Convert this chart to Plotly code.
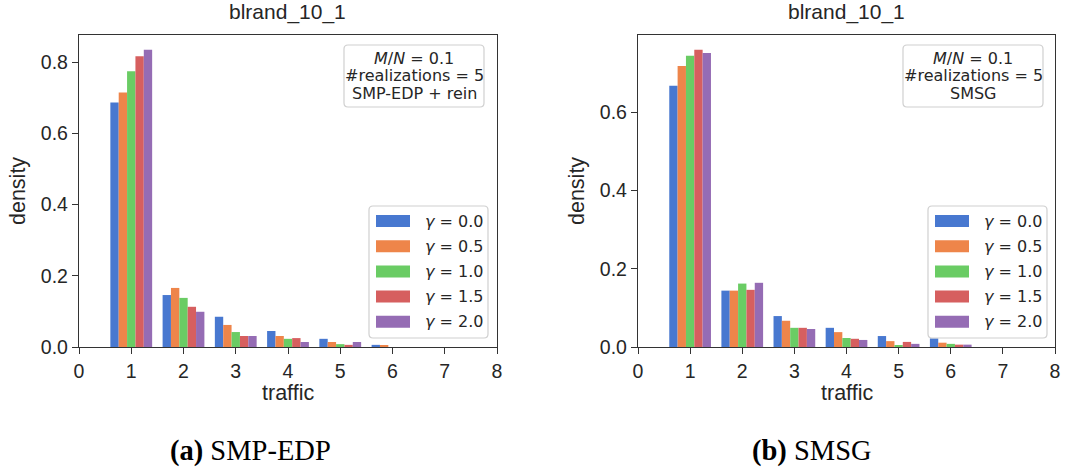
import plotly.graph_objects as go

# ---- data -------------------------------------------------------------
traffic = [1, 2, 3, 4, 5, 6]
gammas = ["0.0", "0.5", "1.0", "1.5", "2.0"]

# SMP-EDP + rein : density of traffic per gamma
smp_g00 = [0.687, 0.146, 0.085, 0.045, 0.023, 0.006]
smp_g05 = [0.715, 0.166, 0.062, 0.031, 0.014, 0.005]
smp_g10 = [0.775, 0.138, 0.042, 0.023, 0.008, 0.000]
smp_g15 = [0.817, 0.113, 0.031, 0.025, 0.006, 0.000]
smp_g20 = [0.835, 0.099, 0.031, 0.014, 0.014, 0.000]

# SMSG : density of traffic per gamma
smsg_g00 = [0.667, 0.144, 0.079, 0.049, 0.028, 0.022]
smsg_g05 = [0.718, 0.144, 0.067, 0.038, 0.015, 0.011]
smsg_g10 = [0.744, 0.162, 0.049, 0.023, 0.005, 0.008]
smsg_g15 = [0.759, 0.146, 0.049, 0.021, 0.013, 0.006]
smsg_g20 = [0.751, 0.164, 0.046, 0.018, 0.008, 0.006]

panel_titles = ["blrand_10_1", "blrand_10_1"]
method_labels = ["SMP-EDP + rein", "SMSG"]
captions = [("(a)", "SMP-EDP"), ("(b)", "SMSG")]
x_ticks = [0, 1, 2, 3, 4, 5, 6, 7, 8]

colors = ["#4878d0", "#ee854a", "#6acc64", "#d65f5f", "#956cb4"]

# ---- geometry (pixels) -----------------------------------------------
W, H = 1065, 469
AX_TOP, AX_BOT = 35, 347
AX_X = [(79, 497), (638, 1055)]
CAP_X = [250, 812]
TXT = "#262626"
SANS = "Liberation Sans, Arial, sans-serif"
MATH = "DejaVu Sans, sans-serif"


def px(x):
    return x / W


def py(y):
    return 1 - y / H


def rounded_rect(x0, y0, x1, y1, r=4):
    """SVG path (paper coords) for a rectangle with rounded corners."""
    rx, ry = r / W, r / H
    a, b, c, d = px(x0), py(y0), px(x1), py(y1)  # b > d (top > bottom)
    return (
        f"M{a + rx},{b} L{c - rx},{b} Q{c},{b} {c},{b - ry} "
        f"L{c},{d + ry} Q{c},{d} {c - rx},{d} "
        f"L{a + rx},{d} Q{a},{d} {a},{d + ry} "
        f"L{a},{b - ry} Q{a},{b} {a + rx},{b} Z"
    )


fig = go.Figure()

panels = [
    [smp_g00, smp_g05, smp_g10, smp_g15, smp_g20],
    [smsg_g00, smsg_g05, smsg_g10, smsg_g15, smsg_g20],
]

for p, series in enumerate(panels):
    xa = "x" if p == 0 else "x2"
    ya = "y" if p == 0 else "y2"
    for g, vals in enumerate(series):
        fig.add_trace(
            go.Bar(
                x=traffic,
                y=vals,
                name=f"γ = {gammas[g]}",
                marker=dict(color=colors[g], line=dict(width=0)),
                xaxis=xa,
                yaxis=ya,
                offsetgroup=str(g),
                showlegend=False,
            )
        )

axis_common = dict(
    showgrid=False,
    zeroline=False,
    showline=True,
    mirror=True,
    linecolor="#333333",
    linewidth=1.25,
    ticks="outside",
    ticklen=6,
    tickwidth=1.25,
    tickcolor="#333333",
    tickfont=dict(family=SANS, size=19.5, color=TXT),
    automargin=False,
)

ydom = [py(AX_BOT), py(AX_TOP)]
ymax = [max(max(s) for s in panels[0]) * 1.05, max(max(s) for s in panels[1]) * 1.05]

fig.update_layout(
    width=W,
    height=H,
    margin=dict(l=0, r=0, t=0, b=0),
    paper_bgcolor="white",
    plot_bgcolor="white",
    barmode="group",
    bargap=0.2,
    bargroupgap=0,
    showlegend=False,
    xaxis=dict(axis_common, domain=[px(AX_X[0][0]), px(AX_X[0][1])], range=[0, 8],
               tickvals=x_ticks, anchor="y"),
    yaxis=dict(axis_common, domain=ydom, range=[0, ymax[0]], tickvals=[0, 0.2, 0.4, 0.6, 0.8],
               tickformat=".1f", anchor="x"),
    xaxis2=dict(axis_common, domain=[px(AX_X[1][0]), px(AX_X[1][1])], range=[0, 8],
                tickvals=x_ticks, anchor="y2"),
    yaxis2=dict(axis_common, domain=ydom, range=[0, ymax[1]], tickvals=[0, 0.2, 0.4, 0.6],
                tickformat=".1f", anchor="x2"),
)

annotations = []
shapes = []

for p in range(2):
    x0, x1 = AX_X[p]
    xc = (x0 + x1) / 2
    off = x0 - AX_X[0][0]

    # title
    annotations.append(dict(x=px(xc), y=py(12), xref="paper", yref="paper",
                            text=panel_titles[p], showarrow=False,
                            font=dict(family=SANS, size=21, color=TXT),
                            xanchor="center", yanchor="middle"))
    # axis labels
    annotations.append(dict(x=px(xc), y=py(393), xref="paper", yref="paper",
                            text="traffic", showarrow=False,
                            font=dict(family=SANS, size=21.5, color=TXT),
                            xanchor="center", yanchor="middle"))
    annotations.append(dict(x=px(18 + off), y=py((AX_TOP + AX_BOT) / 2), xref="paper",
                            yref="paper", text="density", showarrow=False, textangle=-90,
                            font=dict(family=SANS, size=21.5, color=TXT),
                            xanchor="center", yanchor="middle"))
    # caption below the panel
    cap_a, cap_b = captions[p]
    annotations.append(dict(x=px(CAP_X[p]), y=py(451), xref="paper", yref="paper",
                            text=f"<b>{cap_a}</b> {cap_b}", showarrow=False,
                            font=dict(family="Liberation Serif, DejaVu Serif, serif",
                                      size=28.5, color="black"),
                            xanchor="center", yanchor="middle"))

    # info box (top right)
    bx0, by0, bx1, by1 = 344 + off, 45, 484 + off, 107
    shapes.append(dict(type="path", path=rounded_rect(bx0, by0, bx1, by1),
                       xref="paper", yref="paper",
                       line=dict(color="#d0d0d0", width=1.2), fillcolor="white"))
    info_lines = ["<i>M</i>/<i>N</i> = 0.1", "#realizations = 5", method_labels[p]]
    for i, t in enumerate(info_lines):
        annotations.append(dict(x=px((bx0 + bx1) / 2), y=py(59 + 17 * i), xref="paper",
                                yref="paper", text=t, showarrow=False,
                                font=dict(family=MATH, size=16, color=TXT),
                                xanchor="center", yanchor="middle"))

    # legend box (lower right)
    lx0, ly0, lx1, ly1 = 369 + off, 206, 488 + off, 338
    shapes.append(dict(type="path", path=rounded_rect(lx0, ly0, lx1, ly1),
                       xref="paper", yref="paper",
                       line=dict(color="#d0d0d0", width=1.2), fillcolor="rgba(255,255,255,0.8)"))
    for g in range(len(gammas)):
        yc = 221 + 25.2 * g
        shapes.append(dict(type="rect", xref="paper", yref="paper",
                           x0=px(376 + off), x1=px(410 + off),
                           y0=py(yc + 6), y1=py(yc - 6),
                           line=dict(width=0), fillcolor=colors[g]))
        annotations.append(dict(x=px(423 + off), y=py(yc), xref="paper", yref="paper",
                                text=f"<i>γ</i> = {gammas[g]}", showarrow=False,
                                font=dict(family=MATH, size=16, color=TXT),
                                xanchor="left", yanchor="middle"))

fig.update_layout(annotations=annotations, shapes=shapes)

fig.write_html("out.html")
